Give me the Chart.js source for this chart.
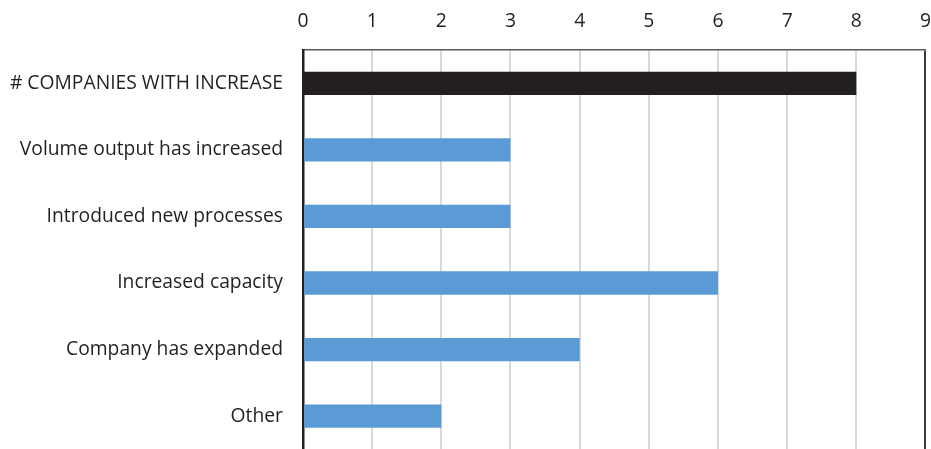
<!DOCTYPE html>
<html>
<head>
<meta charset="utf-8">
<script src="https://cdn.jsdelivr.net/npm/chart.js@4/dist/chart.umd.min.js"></script>
<style>
  html, body { margin: 0; padding: 0; background: #fff; overflow: hidden; }
  #wrap { width: 931px; height: 449px; overflow: hidden; }
</style>
</head>
<body>
<div id="wrap"><canvas id="c" width="931" height="461"></canvas></div>
<script>
// Reasons given for the change in workforce
const categories = [
  '# COMPANIES WITH INCREASE',
  'Volume output has increased',
  'Introduced new processes',
  'Increased capacity',
  'Company has expanded',
  'Other'
];
const companyCounts = [8, 3, 3, 6, 4, 2];
const barColors = ['#231f20', '#5b9bd5', '#5b9bd5', '#5b9bd5', '#5b9bd5', '#5b9bd5'];
const axisMin = 0;
const axisMax = 9;

const FONT = { family: '"Open Sans", Lato, sans-serif', size: 19.3 };

new Chart(document.getElementById('c'), {
  type: 'bar',
  data: {
    labels: categories,
    datasets: [{
      data: companyCounts,
      backgroundColor: barColors,
      borderWidth: 0,
      categoryPercentage: 1,
      barPercentage: 0.35
    }]
  },
  options: {
    indexAxis: 'y',
    responsive: false,
    animation: false,
    layout: { padding: 0 },
    plugins: { legend: { display: false }, tooltip: { enabled: false } },
    scales: {
      x: {
        position: 'top',
        min: axisMin,
        max: axisMax,
        afterFit: s => { s.height = 50; },
        ticks: { stepSize: 1, color: '#231f20', font: FONT, padding: 0 },
        grid: {
          drawTicks: true,
          tickLength: 17,
          tickColor: 'rgba(0,0,0,0)',
          lineWidth: 2,
          color: ctx => (ctx.tick && ctx.tick.value === axisMax) ? '#3a3a3a' : '#d9d9d9'
        },
        border: { display: true, color: '#595959', width: 1.5 }
      },
      y: {
        afterFit: s => { s.width = 303; },
        ticks: { color: '#231f20', font: FONT, padding: 0 },
        grid: {
          display: true,
          drawOnChartArea: false,
          drawTicks: true,
          tickLength: 20,
          tickColor: 'rgba(0,0,0,0)'
        },
        border: { display: true, color: '#231f20', width: 2.5 }
      }
    }
  }
});
</script>
</body>
</html>
